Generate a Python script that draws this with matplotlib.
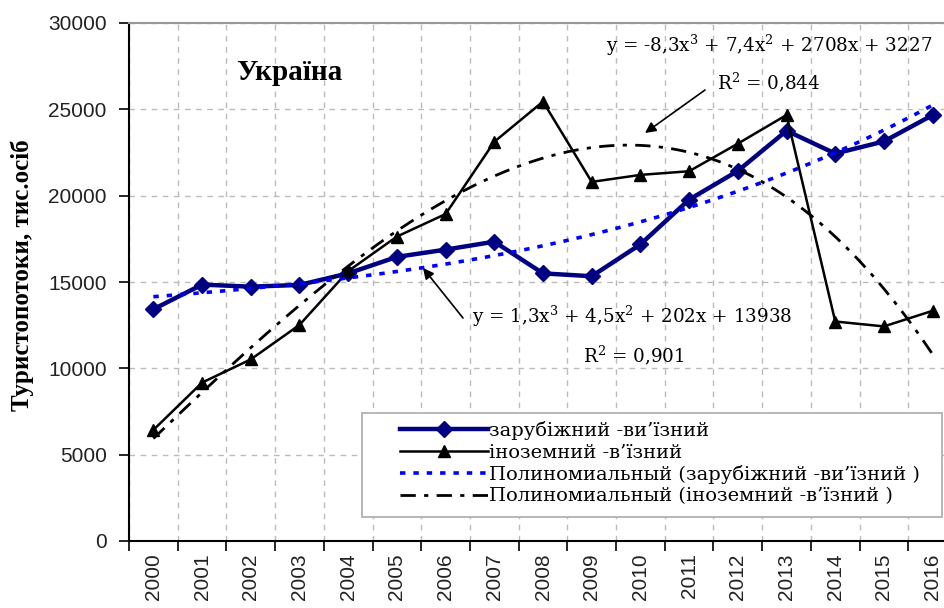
import numpy as np
import matplotlib
matplotlib.use("Agg")
import matplotlib.pyplot as plt
from matplotlib import font_manager
from matplotlib.patches import Rectangle

years = [str(y) for y in range(2000, 2017)]
outbound = [13422, 14849, 14729, 14830, 15500, 16454, 16875, 17335, 15499,
            15334, 17180, 19773, 21433, 23761, 22438, 23142, 24668]
inbound = [6431, 9174, 10517, 12514, 15629, 17631, 18936, 23122, 25449,
           20798, 21203, 21415, 23013, 24671, 12712, 12428, 13333]
label_out = "зарубіжний -ви’їзний"
label_in = "іноземний -в’їзний"
label_trend_out = "Полиномиальный (зарубіжний -ви’їзний )"
label_trend_in = "Полиномиальный (іноземний -в’їзний )"
eq_in = r"y = -8,3x$^3$ + 7,4x$^2$ + 2708x + 3227"
r2_in = r"R$^2$ = 0,844"
eq_out = r"y = 1,3x$^3$ + 4,5x$^2$ + 202x + 13938"
r2_out = r"R$^2$ = 0,901"
title = "Україна"
ylabel = "Туристопотоки, тис.осіб"

plt.rcParams["mathtext.fontset"] = "dejavuserif"

names = {f.name for f in font_manager.fontManager.ttflist}
if "Liberation Sans Narrow" in names:
    tick_family, tick_size = "Liberation Sans Narrow", 18
else:
    tick_family, tick_size = "Liberation Sans", 15

W, H = 944, 608
fig = plt.figure(figsize=(W / 100, H / 100), dpi=100)

def fp(x, y):
    return (x / W, 1 - y / H)

left, right, top, bottom = 129, 957, 23, 541
ax = fig.add_axes([left / W, 1 - bottom / H, (right - left) / W, (bottom - top) / H])

n = len(years)
xi = np.arange(n)

# polynomial (degree 3) trendlines fitted to the series, Excel x = 1..n
xe = np.arange(1, n + 1)
c_out = np.polyfit(xe, outbound, 3)
c_in = np.polyfit(xe, inbound, 3)
xf = np.linspace(1, n, 300)

l1, = ax.plot(xi, outbound, color="#000080", lw=3.2, marker="D", ms=8,
              label=label_out, zorder=3)
l2, = ax.plot(xi, inbound, color="black", lw=1.8, marker="^", ms=8,
              label=label_in, zorder=3)
l3, = ax.plot(xf - 1, np.polyval(c_out, xf), color="#0000FF", lw=2.6,
              linestyle=(0, (1.5, 2.2)), label=label_trend_out, zorder=4)
l4, = ax.plot(xf - 1, np.polyval(c_in, xf), color="black", lw=2.0,
              linestyle=(0, (5.5, 3, 1.5, 3)), label=label_trend_in, zorder=4)

ax.set_xlim(-0.5, n - 0.5)
ax.set_ylim(0, 30000)
ax.set_xticks(np.arange(-0.5, n, 1.0))
ax.set_xticklabels([])
ax.set_xticks(xi, minor=True)
ax.set_xticklabels(years, minor=True, rotation=90, fontsize=tick_size,
                   family=tick_family, color="#222222")
ax.tick_params(axis="x", which="minor", length=0, pad=9)
ax.tick_params(axis="x", which="major", length=7, width=1.2, direction="out")
ax.set_yticks(np.arange(0, 30001, 5000))
ax.set_yticklabels([str(v) for v in range(0, 30001, 5000)], fontsize=tick_size,
                   family=tick_family, color="#222222")
ax.tick_params(axis="y", length=7, width=1.2, direction="out", pad=9)

ax.grid(True, which="major", color="#bbbbbb", linestyle=(0, (4, 4)), lw=1.0)
ax.set_axisbelow(True)
for s in ["left", "bottom"]:
    ax.spines[s].set_color("black")
    ax.spines[s].set_linewidth(1.5)
ax.spines["top"].set_color("#999999")
ax.spines["top"].set_linewidth(1.5)
ax.spines["right"].set_visible(False)

fig.text(22 / W, 1 - 275 / H, ylabel, rotation=90, ha="center", va="center",
         fontsize=18, fontweight="bold", family="Liberation Serif")

fig.text(*fp(236, 72), title, ha="left", va="center", fontsize=21,
         fontweight="bold", family="Liberation Serif")

tfont = dict(fontsize=13.2, family="DejaVu Serif", color="black")
fig.text(*fp(606, 45), eq_in, ha="left", va="center", **tfont)
fig.text(*fp(717, 82), r2_in, ha="left", va="center", **tfont)
fig.text(*fp(472, 316), eq_out, ha="left", va="center", **tfont)
fig.text(*fp(583, 355), r2_out, ha="left", va="center", **tfont)

arrow = dict(arrowstyle="-|>", color="black", lw=1.2, mutation_scale=16,
             shrinkA=0, shrinkB=0)
ax.annotate("", xy=fp(645, 133), xycoords="figure fraction",
            xytext=fp(705, 90), textcoords="figure fraction", arrowprops=arrow)
ax.annotate("", xy=fp(423, 268), xycoords="figure fraction",
            xytext=fp(463, 318), textcoords="figure fraction", arrowprops=arrow)

# legend frame
x0, y0, x1, y1 = 362, 413, 942, 517
frame = Rectangle(fp(x0, y1), (x1 - x0) / W, (y1 - y0) / H,
                  transform=fig.transFigure, facecolor="white",
                  edgecolor="#aaaaaa", lw=1.2, zorder=4)
fig.patches.append(frame)

leg = fig.legend(handles=[l1, l2, l3, l4], loc="upper left",
                 bbox_to_anchor=fp(400, 421), bbox_transform=fig.transFigure,
                 borderaxespad=0, borderpad=0, frameon=False,
                 prop={"family": "DejaVu Serif", "size": 14},
                 handlelength=4.5, handletextpad=0.1, labelspacing=0.18,
                 numpoints=1)
leg.set_zorder(5)

fig.savefig("out.png", dpi=100)
